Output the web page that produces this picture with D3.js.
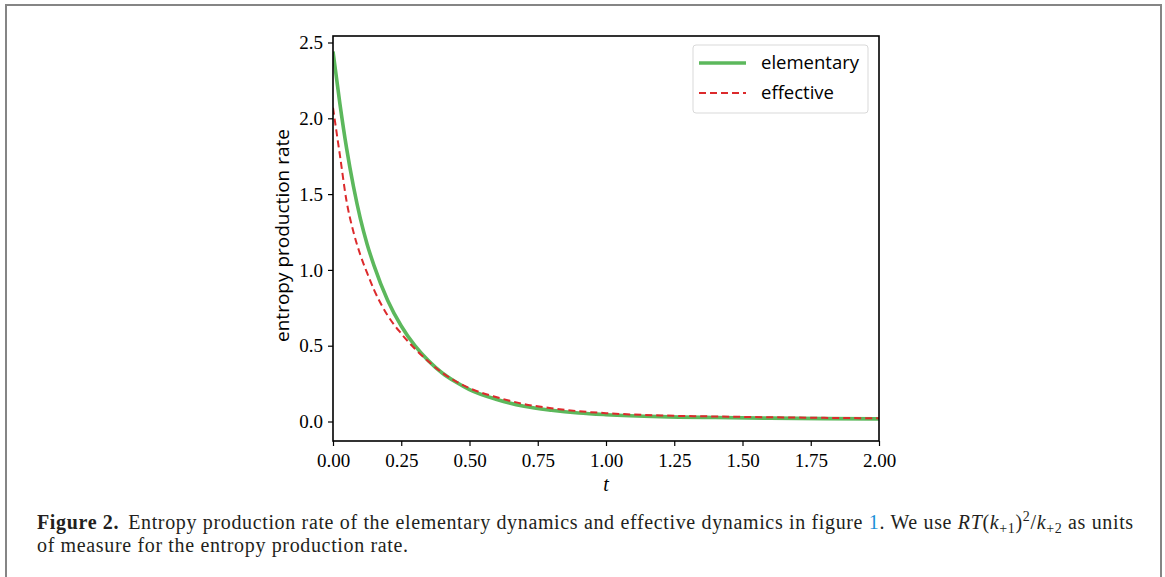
<!DOCTYPE html>
<html><head><meta charset="utf-8">
<script src="https://cdn.jsdelivr.net/npm/d3@7"></script>
<style>
body{margin:0;background:#fff;}
svg{display:block;}
</style></head>
<body>
<svg id="chart" width="1165" height="577"></svg>
<script>
const tValues = [0, 0.025, 0.05, 0.075, 0.1, 0.125, 0.15, 0.2, 0.25, 0.3, 0.35, 0.4, 0.45, 0.5, 0.6, 0.7, 0.8, 0.9, 1.0, 1.2, 1.4, 1.6, 1.8, 2.0];
const elementary = [2.44, 2.10, 1.80, 1.55, 1.34, 1.17, 1.03, 0.80, 0.63, 0.50, 0.40, 0.32, 0.26, 0.21, 0.145, 0.10, 0.074, 0.056, 0.045, 0.032, 0.026, 0.022, 0.019, 0.017];
const effective = [2.07, 1.76, 1.45, 1.25, 1.10, 0.98, 0.87, 0.70, 0.58, 0.48, 0.395, 0.322, 0.265, 0.22, 0.16, 0.115, 0.088, 0.068, 0.055, 0.040, 0.033, 0.028, 0.024, 0.021];
const xTicks = [0, 0.25, 0.5, 0.75, 1.0, 1.25, 1.5, 1.75, 2.0];
const yTicks = [0, 0.5, 1.0, 1.5, 2.0, 2.5];
const seriesNames = ["elementary", "effective"];

const svg = d3.select("#chart");
// outer frame
svg.append("rect").attr("x",6).attr("y",5).attr("width",1155).attr("height",600)
  .attr("fill","none").attr("stroke","#858585").attr("stroke-width",2);

const L=333, R=879, T=36, B=441;
const x = d3.scaleLinear().domain([0,2]).range([L,R]);
const y = d3.scaleLinear().domain([0,2.5]).range([421.5,42.5]);

const tickFont = "'Liberation Serif', 'Times New Roman', serif";
const sansFont = "'Open Sans', Lato, sans-serif";

const gx = svg.append("g").attr("transform",`translate(0,${B})`)
  .call(d3.axisBottom(x).tickValues(xTicks).tickFormat(d3.format(".2f")).tickSize(5).tickPadding(4));
const gy = svg.append("g").attr("transform",`translate(${L},0)`)
  .call(d3.axisLeft(y).tickValues(yTicks).tickFormat(d3.format(".1f")).tickSize(5).tickPadding(5));
[gx,gy].forEach(g=>{
  g.select(".domain").remove();
  g.selectAll(".tick line").attr("stroke","#000").attr("stroke-width",1.2);
  g.selectAll(".tick text").attr("fill","#000").style("font-family",tickFont).style("font-size","19px");
});
gx.selectAll(".tick text").attr("dy","0.9em");
gy.selectAll(".tick text").attr("dy","0.33em");

const clip = svg.append("clipPath").attr("id","clip").append("rect")
  .attr("x",L).attr("y",T).attr("width",R-L).attr("height",B-T);

const line = d3.line().x((d,i)=>x(tValues[i])).y(d=>y(d)).curve(d3.curveMonotoneX);
const plot = svg.append("g").attr("clip-path","url(#clip)");
plot.append("path").datum(elementary).attr("d",line).attr("fill","none")
  .attr("stroke","#5cb85c").attr("stroke-width",3.6);
plot.append("path").datum(effective).attr("d",line).attr("fill","none")
  .attr("stroke","#dc2a2c").attr("stroke-width",2).attr("stroke-dasharray","7,4");

// frame
svg.append("rect").attr("x",L).attr("y",T).attr("width",R-L).attr("height",B-T)
  .attr("fill","none").attr("stroke","#000").attr("stroke-width",1.6);

// axis labels
svg.append("text").attr("x",(L+R)/2).attr("y",491).attr("text-anchor","middle")
  .style("font-family",tickFont).style("font-style","italic").style("font-size","20px").text("t");
svg.append("text").attr("transform",`translate(289,${(T+B)/2-3}) rotate(-90)`).attr("text-anchor","middle")
  .style("font-family",sansFont).style("font-size","19px").text("entropy production rate");

// legend
const lg = svg.append("g");
lg.append("rect").attr("x",693).attr("y",45).attr("width",175).attr("height",68).attr("rx",3)
  .attr("fill","#fff").attr("stroke","#d9d9d9").attr("stroke-width",1);
const legendStyles = [{c:"#5cb85c",w:3.6,d:null},{c:"#dc2a2c",w:2,d:"7,4"}];
seriesNames.forEach((n,i)=>{
  const yy = 63 + i*30;
  lg.append("line").attr("x1",699).attr("x2",746).attr("y1",yy).attr("y2",yy)
    .attr("stroke",legendStyles[i].c).attr("stroke-width",legendStyles[i].w)
    .attr("stroke-dasharray",legendStyles[i].d);
  lg.append("text").attr("x",761).attr("y",yy+6).style("font-family",sansFont).style("font-size","18.5px").text(n);
});

// caption
const cap = svg.append("text").style("font-family",tickFont).style("font-size","20px")
  .style("letter-spacing","0.65px").attr("fill","#231f20");
const l1 = cap.append("tspan").attr("x",37).attr("y",529);
l1.append("tspan").style("font-weight","bold").text("Figure 2.");
l1.append("tspan").attr("dx",9).text("Entropy production rate of the elementary dynamics and effective dynamics in figure ");
l1.append("tspan").attr("fill","#1a8fd8").text("1");
l1.append("tspan").text(". We use ");
l1.append("tspan").style("font-style","italic").text("RT");
l1.append("tspan").text("(");
l1.append("tspan").style("font-style","italic").text("k");
l1.append("tspan").attr("dy",4).style("font-size","14px").text("+1");
l1.append("tspan").attr("dy",-4).text(")");
l1.append("tspan").attr("dy",-8).style("font-size","14px").text("2");
l1.append("tspan").attr("dy",8).text("/");
l1.append("tspan").style("font-style","italic").text("k");
l1.append("tspan").attr("dy",4).style("font-size","14px").text("+2");
l1.append("tspan").attr("dy",-4).text(" as units");
cap.append("tspan").attr("x",37).attr("y",552).text("of measure for the entropy production rate.");
</script>
</body></html>
